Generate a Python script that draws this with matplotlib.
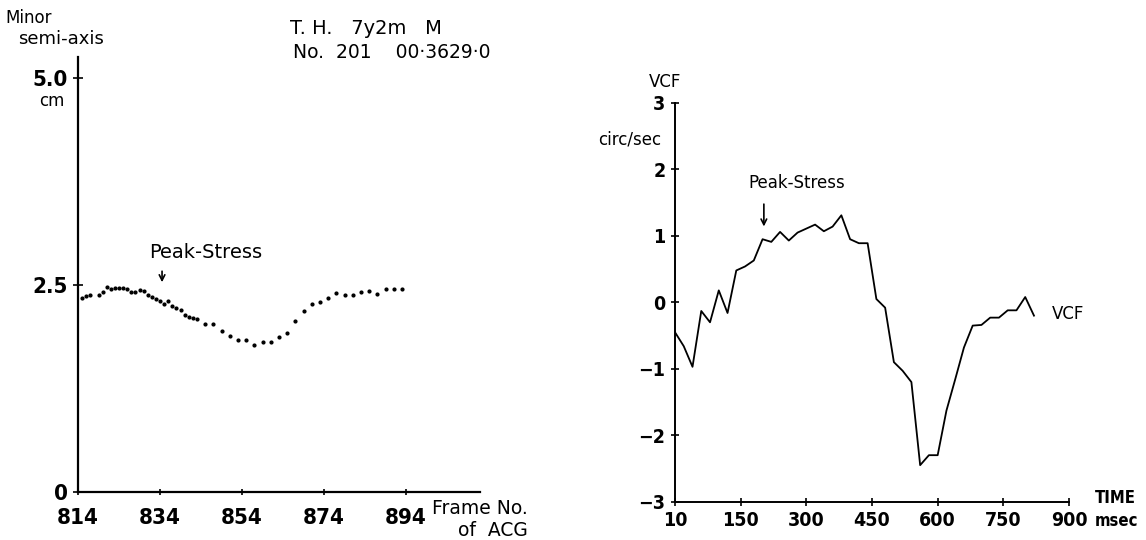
import matplotlib
matplotlib.use("Agg")
import matplotlib.pyplot as plt

plt.rcParams['font.family'] = ['DejaVu Sans']

# left panel: minor semi-axis (cm) vs frame number of ACG
frames = [815, 816, 817, 819, 820, 821, 822, 823, 824, 825, 826, 827, 828, 829,
          830, 831, 832, 833, 834, 835, 836, 837, 838, 839, 840, 841, 842, 843,
          845, 847, 849, 851, 853, 855, 857, 859, 861, 863, 865, 867, 869, 871,
          873, 875, 877, 879, 881, 883, 885, 887, 889, 891, 893]
semi_axis = [2.34, 2.37, 2.38, 2.38, 2.42, 2.47, 2.45, 2.46, 2.46, 2.46, 2.45, 2.41,
             2.42, 2.44, 2.43, 2.38, 2.35, 2.33, 2.31, 2.27, 2.31, 2.25, 2.22, 2.20,
             2.14, 2.11, 2.10, 2.09,
             2.03, 2.03, 1.95, 1.88, 1.84, 1.84, 1.77, 1.81, 1.81, 1.87, 1.92, 2.07,
             2.19, 2.27, 2.29, 2.34, 2.40, 2.38, 2.38, 2.42, 2.43, 2.39, 2.45, 2.45, 2.45]
left_xticks = [814, 834, 854, 874, 894]
left_yticks = [0, 2.5, 5.0]
left_ylabels = ["0", "2.5", "5.0"]

# right panel: VCF (circ/sec) vs time (msec)
time_ms = list(range(0, 840, 20))
vcf = [-0.45, -0.66, -0.97, -0.13, -0.30, 0.18, -0.16, 0.48, 0.54, 0.63, 0.95,
       0.91, 1.06, 0.93, 1.05, 1.11, 1.17, 1.07, 1.14, 1.31, 0.95, 0.89, 0.89,
       0.05, -0.08, -0.90, -1.03, -1.20, -2.45, -2.30, -2.30, -1.63, -1.16, -0.68,
       -0.35, -0.34, -0.23, -0.23, -0.12, -0.12, 0.08, -0.20]
right_xticks = [0, 150, 300, 450, 600, 750, 900]
right_xlabels = ["10", "150", "300", "450", "600", "750", "900"]
right_yticks = [-3, -2, -1, 0, 1, 2, 3]
right_ylabels = ["\u22123", "\u22122", "\u22121", "0", "1", "2", "3"]

W, H = 1146, 540
fig = plt.figure(figsize=(W / 100, H / 100), dpi=100)

def px(x, y):
    return x / W, 1 - y / H

num = dict(fontweight="bold", fontstretch="condensed")

# ---- left panel
ax1 = fig.add_axes([78 / W, 1 - 492 / H, (480 - 78) / W, (492 - 57) / H])
ax1.plot(frames, semi_axis, "o", color="black", markersize=2.0)
ax1.set_xlim(814, 814 + (480 - 78) / 4.1)
ax1.set_ylim(0, 5.0 * (492 - 57) / (492 - 78))
ax1.set_xticks(left_xticks)
ax1.set_xticklabels([str(v) for v in left_xticks], **num)
ax1.set_yticks(left_yticks)
ax1.set_yticklabels(left_ylabels, **num)
ax1.tick_params(axis="x", direction="inout", length=5, width=1.2, pad=9, labelsize=16)
ax1.tick_params(axis="y", direction="inout", length=7, width=1.2, pad=4, labelsize=16)
for s in ["top", "right"]:
    ax1.spines[s].set_visible(False)
for s in ["left", "bottom"]:
    ax1.spines[s].set_linewidth(1.6)

ax1.annotate("", xy=(834.5, 2.50), xytext=(834.5, 2.70),
             arrowprops=dict(arrowstyle="->", color="black", lw=1.2))
fig.text(*px(206, 252), "Peak-Stress", ha="center", va="center", fontsize=14)

fig.text(*px(5, 18), "Minor", ha="left", va="center", fontsize=12)
fig.text(*px(18, 39), "semi-axis", ha="left", va="center", fontsize=13)
fig.text(*px(52, 101), "cm", ha="center", va="center", fontsize=12)
fig.text(*px(290, 28), "T. H.   7y2m   M", ha="left", va="center", fontsize=14)
fig.text(*px(293, 53), "No.  201    00\u00b73629\u00b70", ha="left", va="center", fontsize=13.5)
fig.text(*px(528, 509), "Frame No.", ha="right", va="center", fontsize=13.5)
fig.text(*px(528, 530), "of  ACG", ha="right", va="center", fontsize=13.5)

# ---- right panel
ax2 = fig.add_axes([675 / W, 1 - 501.7 / H, (1069 - 675) / W, (501.7 - 103) / H])
ax2.plot(time_ms, vcf, color="black", lw=1.3)
ax2.set_xlim(0, 900)
ax2.set_ylim(-3, 3)
ax2.set_xticks(right_xticks)
ax2.set_xticklabels(right_xlabels, **num)
ax2.set_yticks(right_yticks)
ax2.set_yticklabels(right_ylabels, **num)
ax2.tick_params(axis="both", direction="inout", length=6, width=1.2, pad=4, labelsize=14)
for s in ["top", "right"]:
    ax2.spines[s].set_visible(False)
for s in ["left", "bottom"]:
    ax2.spines[s].set_linewidth(1.4)

ax2.annotate("", xy=(203, 1.10), xytext=(203, 1.52),
             arrowprops=dict(arrowstyle="->", color="black", lw=1.2))
fig.text(*px(797, 183), "Peak-Stress", ha="center", va="center", fontsize=12)
fig.text(*px(665, 82), "VCF", ha="center", va="center", fontsize=12)
fig.text(*px(630, 140), "circ/sec", ha="center", va="center", fontsize=12)
fig.text(*px(1052, 314), "VCF", ha="left", va="center", fontsize=12)
fig.text(*px(1115, 498), "TIME", ha="center", va="center", fontsize=12,
         fontweight="bold", fontstretch="condensed")
fig.text(*px(1116, 521), "msec", ha="center", va="center", fontsize=12,
         fontweight="bold", fontstretch="condensed")

fig.savefig("out.png", dpi=100, facecolor="white")
